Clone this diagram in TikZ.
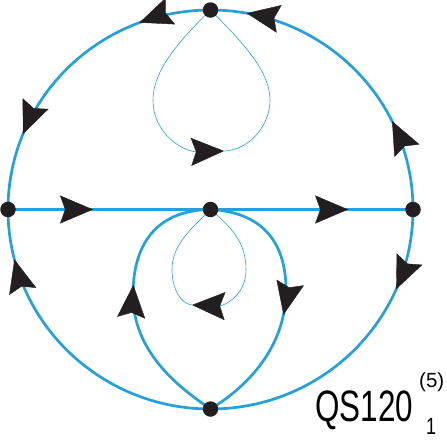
\documentclass[tikz,border=0pt]{standalone}
\usepackage{fontspec}
\setmainfont{Liberation Sans}
\usetikzlibrary{arrows.meta,decorations.markings,backgrounds}
\definecolor{linec}{RGB}{38,160,218}
\definecolor{arrc}{RGB}{35,31,32}
\begin{document}
\begin{tikzpicture}[x=1pt,y=-1pt,
  main/.style={draw=linec,line width=2.7pt},
  thin/.style={draw=linec,line width=0.6pt},
  dot/.style={circle,fill=arrc,inner sep=0pt,minimum size=15.5pt},
  head/.style={-{Stealth[length=33pt,width=28pt,inset=5pt,line width=0.4pt,color=arrc]}},
  tipat/.style={postaction={decorate,decoration={markings,mark=at position #1 with {\arrow{Stealth[length=33pt,width=28pt,inset=5pt,line width=0.4pt,color=arrc]}}}}},
  rx/.style={x radius=202.5pt,y radius=199.5pt}
]
\useasboundingbox (0,0) rectangle (447,439);
\node[dot] (T) at (210.5,10) {};
\node[dot] (L) at (8,209.5) {};
\node[dot] (R) at (413,209.5) {};
\node[dot] (B) at (210.5,409) {};
\node[dot] (C) at (210.5,209.5) {};
\coordinate (tu) at (224,151);
\coordinate (tl) at (192,305);
\begin{scope}[on background layer]
\draw[main,tipat=0.23,tipat=0.755] (T.center) arc[start angle=90,end angle=180,rx];
\draw[main,tipat=0.29,tipat=0.885] (R.center) arc[start angle=0,end angle=90,rx];
\draw[main,tipat=0.84] (B.center) arc[start angle=270,end angle=180,rx];
\draw[main,tipat=0.26] (R.center) arc[start angle=360,end angle=270,rx];
\draw[main,tipat=0.42] (L.center) -- (C.center);
\draw[main,tipat=0.68] (C.center) -- (R.center);
\draw[main,tipat=0.56] (B.center) .. controls (175,385) and (133,350) .. (133,295) .. controls (133,240) and (160,210) .. (C.center);
\draw[main,tipat=0.55] (C.center) .. controls (260,212) and (286,240) .. (286,290) .. controls (286,345) and (250,385) .. (B.center);
\draw[thin,head] (T.center) .. controls (180,40) and (153,70) .. (153,100) .. controls (153,135) and (185,152) .. (tu);
\draw[thin] (tu) .. controls (250,150) and (270,125) .. (270,100) .. controls (270,70) and (240,40) .. (T.center);
\draw[thin,head] (C.center) .. controls (235,230) and (246,245) .. (246,270) .. controls (246,297) and (222,306) .. (tl);
\draw[thin] (tl) .. controls (180,304) and (172,287) .. (172,270) .. controls (172,245) and (190,230) .. (C.center);
\end{scope}
\node[anchor=base west,inner sep=0pt] (lab) at (315,421.5) {\fontsize{31.4}{32}\selectfont\scalebox{1}[1.4]{QS120}};
\node[anchor=base west,inner sep=0pt] (sup) at (419,387) {\fontsize{20.5}{22}\selectfont (5)};
\node[anchor=base west,inner sep=0pt] (sub) at (426,434) {\fontsize{18}{20}\selectfont\scalebox{1}[1.3]{1}};
\end{tikzpicture}
\end{document}
